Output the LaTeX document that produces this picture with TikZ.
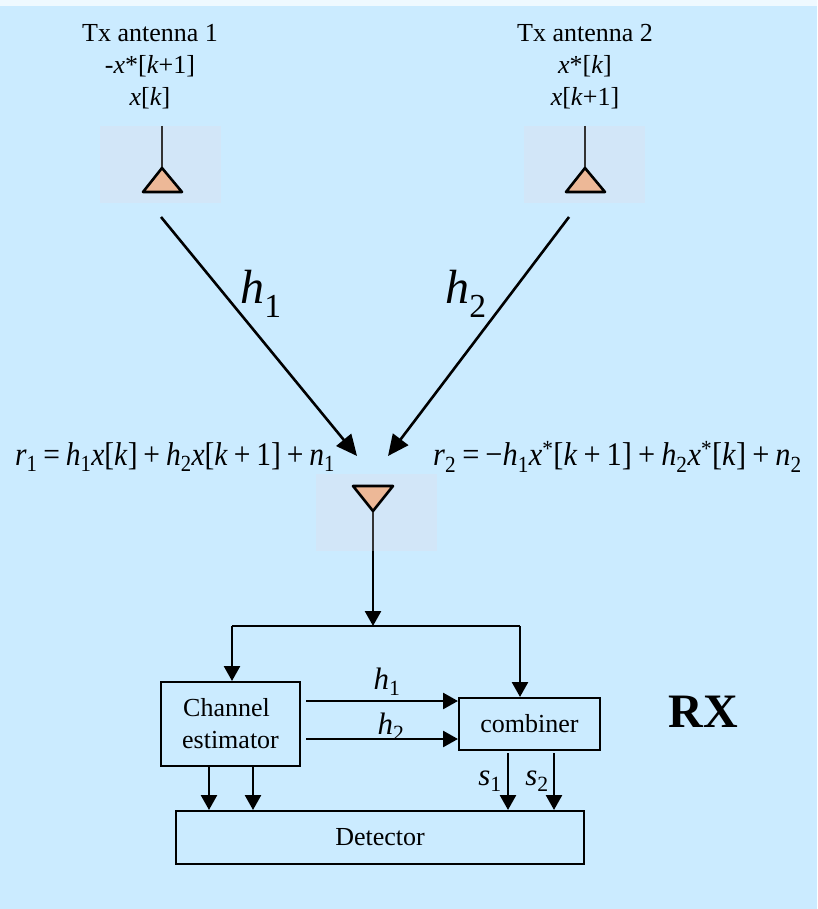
\documentclass[tikz,border=0pt]{standalone}
\usepackage{fontspec}
\setmainfont{Liberation Serif}
\usepackage{xcolor}
\usetikzlibrary{arrows.meta,positioning,calc}
\definecolor{bgblue}{RGB}{203,235,255}
\definecolor{panelblue}{RGB}{210,230,248}
\definecolor{antfill}{RGB}{237,184,151}
\newcommand{\vi}[1]{\textit{#1}}
\newcommand{\sbs}[1]{\textsubscript{#1}}
\newcommand{\gap}{\hspace{.2em}}
\begin{document}
\begin{tikzpicture}[x=1pt,y=-1pt,>={Triangle[length=15pt,width=16pt]},
  font=\fontsize{26}{32}\selectfont,
  panel/.style={fill=panelblue,minimum width=121pt,minimum height=77pt,inner sep=0pt},
  ant/.style={draw=black,line width=2.6pt,fill=antfill,line join=round},
  feed/.style={line width=1.6pt,draw=black!80},
  block/.style={draw,line width=2pt,inner sep=0pt,align=center},
  arr/.style={->,line width=2.6pt},
  diag/.style={-{Triangle[length=21pt,width=19pt]},line width=2.6pt},
  lbl/.style={inner sep=0pt},
  sig/.style={inner sep=0pt,font=\fontsize{31}{31}\selectfont},
  big/.style={inner sep=0pt,font=\fontsize{48}{48}\selectfont},
  eqn/.style={inner sep=0pt,transform shape,font=\fontsize{33}{33}\selectfont}]
  \useasboundingbox (0,0) rectangle (817,909);
  \fill[bgblue] (0,0) rectangle (817,909);
  \fill[white!70!bgblue] (0,0) rectangle (817,6);
  % transmit antennas
  \node[panel](panA) at (160.5,164.5){};
  \node[panel](panB) at (584.5,164.5){};
  \node[panel](panR) at (376.5,512.5){};
  \node[lbl,align=center](txA) at (150,67){Tx antenna 1\\-\vi{x}*[\vi{k}+1]\\\vi{x}[\vi{k}]};
  \node[lbl,align=center](txB) at (585,67){Tx antenna 2\\\vi{x}*[\vi{k}]\\\vi{x}[\vi{k}+1]};
  \coordinate (topA) at (162,168);
  \coordinate (topB) at (585,168);
  \coordinate (tipR) at (373,511);
  \draw[feed] (topA |- panA.north) -- (topA);
  \draw[feed] (topB |- panB.north) -- (topB);
  \draw[feed] (tipR) -- (tipR |- panR.south);
  \draw[ant] (topA) -- (143,192) -- (182,192) -- cycle;
  \draw[ant] (topB) -- (566,192) -- (605,192) -- cycle;
  \draw[ant] (tipR) -- (353,486) -- (393,486) -- cycle;
  % channels
  \coordinate (srcA) at (161,217);
  \coordinate (srcB) at (569,217);
  \coordinate (dstA) at (357,456);
  \coordinate (dstB) at (388,456);
  \draw[diag] (srcA) -- (dstA);
  \draw[diag] (srcB) -- (dstB);
  \node[big](hA) at (261,294){\vi{h}\sbs{1}};
  \node[big](hB) at (466,294){\vi{h}\sbs{2}};
  \begin{scope}[xscale=.894]
    \node[eqn](eqA) at (175/.894,457){\vi{r}\sbs{1}\gap=\gap\vi{h}\sbs{1}\vi{x}[\vi{k}]\gap+\gap\vi{h}\sbs{2}\vi{x}[\vi{k}\gap+\gap1]\gap+\gap\vi{n}\sbs{1}};
  \end{scope}
  \begin{scope}[xscale=.92]
    \node[eqn](eqB) at (617.5/.92,457){\vi{r}\sbs{2}\gap=\gap−\vi{h}\sbs{1}\vi{x}\textsuperscript{*}[\vi{k}\gap+\gap1]\gap+\gap\vi{h}\sbs{2}\vi{x}\textsuperscript{*}[\vi{k}]\gap+\gap\vi{n}\sbs{2}};
  \end{scope}
  % receiver
  \node[block,minimum width=139pt,minimum height=84pt](chan) at (230.5,724){Channel\hspace*{8pt}\\estimator};
  \node[block,minimum width=141pt,minimum height=52pt](comb) at (529.5,724){combiner};
  \node[block,minimum width=408pt,minimum height=53pt](det) at (380,837.5){Detector};
  \node[lbl,font=\fontsize{48}{48}\selectfont\bfseries](rx) at (703.5,712){RX};
  \coordinate (busM) at (373,626);
  \coordinate (busL) at (232,626);
  \coordinate (busR) at (520,626);
  \draw[arr] (tipR |- panR.south) -- (busM);
  \draw[line width=2.2pt] (busL) -- (busR);
  \draw[arr] (busL) -- (busL |- chan.north);
  \draw[arr] (busR) -- (busR |- comb.north);
  \coordinate (hfromA) at (306,701);
  \coordinate (hfromB) at (306,739);
  \node[sig](hC) at (387,682){\vi{h}\sbs{1}};
  \begin{scope}
    \clip (340,700) rectangle (440,738);
    \node[sig](hD) at (391,727){\vi{h}\sbs{2}};
  \end{scope}
  \draw[arr] (hfromA) -- (hfromA -| comb.west);
  \draw[arr] (hfromB) -- (hfromB -| comb.west);
  \coordinate (dnA) at (209,766);
  \coordinate (dnB) at (253,766);
  \coordinate (dnC) at (508,753);
  \coordinate (dnD) at (554,753);
  \draw[arr] (dnA) -- (dnA |- det.north);
  \draw[arr] (dnB) -- (dnB |- det.north);
  \draw[arr] (dnC) -- (dnC |- det.north);
  \draw[arr] (dnD) -- (dnD |- det.north);
  \node[sig](sA) at (490,781){\vi{s}\sbs{1}};
  \node[sig](sB) at (537,781){\vi{s}\sbs{2}};
\end{tikzpicture}
\end{document}
